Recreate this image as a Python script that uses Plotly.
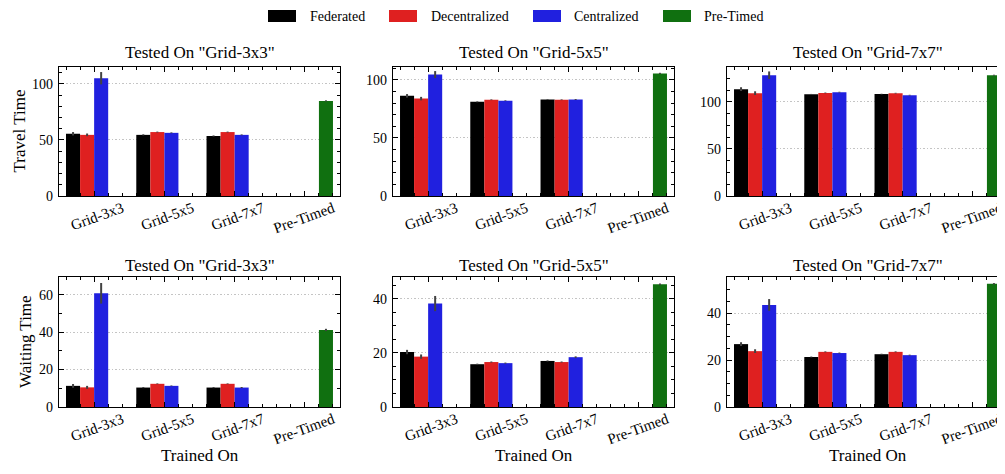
import plotly.graph_objects as go
from plotly.subplots import make_subplots

# ---------------- data ----------------
categories = ["Grid-3x3", "Grid-5x5", "Grid-7x7"]          # trained on
tick_labels = ["Grid-3x3", "Grid-5x5", "Grid-7x7", "Pre-Timed"]
tested_on = ["Grid-3x3", "Grid-5x5", "Grid-7x7"]
methods = ["Federated", "Decentralized", "Centralized", "Pre-Timed"]
colors = ["#000000", "#df2020", "#2020df", "#107010"]

# Travel time (rows: tested on 3x3, 5x5, 7x7)
travel_fed = [[55.5, 54.5, 53.5], [86.2, 81.0, 83.0], [113.5, 108.0, 108.2]]
travel_dec = [[54.5, 57.0, 57.0], [83.8, 82.8, 82.8], [109.2, 109.5, 109.2]]
travel_cen = [[105.0, 56.3, 54.5], [104.5, 82.0, 83.0], [128.3, 110.3, 107.1]]
travel_pre = [84.8, 105.5, 128.3]
travel_fed_err = [[1.5, 0.5, 0.5], [1.5, 0.4, 0.3], [2.0, 0.4, 0.4]]
travel_dec_err = [[1.2, 0.4, 0.4], [1.5, 0.3, 0.3], [2.0, 0.4, 0.4]]
travel_cen_err = [[5.5, 0.4, 0.4], [3.0, 0.3, 0.4], [4.0, 0.4, 0.4]]
travel_pre_err = [0.5, 0.5, 0.5]

# Waiting time
wait_fed = [[11.3, 10.4, 10.4], [20.3, 15.8, 17.0], [26.8, 21.3, 22.5]]
wait_dec = [[10.5, 12.4, 12.4], [18.6, 16.6, 16.6], [23.8, 23.5, 23.5]]
wait_cen = [[60.8, 11.3, 10.4], [38.2, 16.2, 18.4], [43.5, 23.0, 22.1]]
wait_pre = [41.2, 45.3, 52.5]
wait_fed_err = [[1.0, 0.3, 0.3], [0.8, 0.2, 0.2], [0.8, 0.2, 0.2]]
wait_dec_err = [[0.8, 0.2, 0.2], [0.8, 0.2, 0.2], [0.8, 0.2, 0.2]]
wait_cen_err = [[5.5, 0.2, 0.3], [2.8, 0.2, 0.3], [2.5, 0.2, 0.2]]
wait_pre_err = [0.6, 0.3, 0.3]

# axis settings
y_max = [[115, 111, 137], [69.5, 48, 55.4]]
y_major = [[50, 50, 50], [20, 20, 20]]
y_minor = [[10, 10, 12.5], [10, 5, 5]]
row_titles = ["Travel Time", "Waiting Time"]

FONT = "Liberation Serif"
OFF = 8                       # default page body margin
W, H = 1005 - OFF, 474 - 2 * OFF


def px(x):
    return (x - OFF) / W


def py(y):
    return 1 - (y - OFF) / H


fig = make_subplots(rows=2, cols=3)

metrics = [
    (travel_fed, travel_dec, travel_cen, travel_pre,
     travel_fed_err, travel_dec_err, travel_cen_err, travel_pre_err),
    (wait_fed, wait_dec, wait_cen, wait_pre,
     wait_fed_err, wait_dec_err, wait_cen_err, wait_pre_err),
]

xs = list(range(len(categories)))
x_pre = [len(categories)]

for r, m in enumerate(metrics):
    fed, dec, cen, pre, fe, de, ce, pe = m
    for c in range(3):
        series = [(fed[c], fe[c], xs), (dec[c], de[c], xs), (cen[c], ce[c], xs),
                  ([pre[c]], [pe[c]], x_pre)]
        for k, (vals, errs, xx) in enumerate(series):
            fig.add_trace(go.Bar(
                x=xx, y=vals, name=methods[k], marker_color=colors[k],
                marker_line_width=0, showlegend=False,
                error_y=dict(type="data", array=errs, color="#424242",
                             thickness=2, width=0)),
                row=r + 1, col=c + 1)

# ---------------- layout ----------------
col_px = [(59, 340), (393, 674), (727, 1008)]
row_px = [(67, 196), (277, 407)]
px_per_unit = (674 - 393) / 4.0

axis_common = dict(showline=True, linecolor="black", linewidth=1.3,
                   mirror="allticks", ticks="inside", tickcolor="black",
                   tickwidth=1, zeroline=False, automargin=False)

for r in range(2):
    for c in range(3):
        idx = r * 3 + c + 1
        xname = "xaxis" if idx == 1 else f"xaxis{idx}"
        yname = "yaxis" if idx == 1 else f"yaxis{idx}"
        x0, x1 = col_px[c]
        x1 = min(x1, W + OFF)
        y0, y1 = row_px[r]
        xr_end = -0.5 + (x1 - x0) / px_per_unit
        fig.layout[xname].update(
            domain=[px(x0), px(x1)], range=[-0.5, xr_end],
            tickvals=list(range(len(tick_labels))), ticktext=tick_labels,
            tickangle=-20, ticklen=5, ticklabelshift=28, ticklabelstandoff=-3,
            tickfont=dict(family=FONT, size=15, color="black"),
            showgrid=False,
            minor=dict(ticks="inside", ticklen=3, dtick=0.2, tick0=0,
                       tickcolor="black", tickwidth=1, showgrid=False),
            **axis_common)
        fig.layout[yname].update(
            domain=[py(y1), py(y0)], range=[0, y_max[r][c]],
            dtick=y_major[r][c], tick0=0, ticklen=5, ticklabelstandoff=2,
            tickfont=dict(family=FONT, size=14, color="black"),
            showgrid=True, gridcolor="#c4c4c4", gridwidth=1,
            griddash="1.5px,2px",
            minor=dict(ticks="inside", ticklen=3, dtick=y_minor[r][c], tick0=0,
                       tickcolor="black", tickwidth=1, showgrid=False),
            **axis_common)

annotations = []
title_y = [53, 265]
for r in range(2):
    for c in range(3):
        x0 = col_px[c][0]
        annotations.append(dict(
            text=f'Tested On "{tested_on[c]}"', x=px(x0 + 140.5), y=py(title_y[r]),
            xref="paper", yref="paper", xanchor="center", yanchor="middle",
            showarrow=False, font=dict(family=FONT, size=17, color="black")))

for c in range(3):
    x0 = col_px[c][0]
    annotations.append(dict(
        text="Trained On", x=px(x0 + 140.5), y=py(455),
        xref="paper", yref="paper", xanchor="center", yanchor="middle",
        showarrow=False, font=dict(family=FONT, size=17, color="black")))

ylab_x = [19, 25]
for r in range(2):
    y0, y1 = row_px[r]
    annotations.append(dict(
        text=row_titles[r], x=px(ylab_x[r]), y=py((y0 + y1) / 2),
        xref="paper", yref="paper", xanchor="center", yanchor="middle",
        textangle=-90, showarrow=False,
        font=dict(family=FONT, size=17, color="black")))

# legend (drawn manually to match wide swatches)
shapes = []
leg_swatch_x = [268, 389, 533, 663]
leg_text_x = [308, 429, 572, 702]
for k, name in enumerate(methods):
    shapes.append(dict(type="rect", xref="paper", yref="paper",
                       x0=px(leg_swatch_x[k]), x1=px(leg_swatch_x[k] + 28),
                       y0=py(22), y1=py(10),
                       fillcolor=colors[k], line=dict(width=0)))
    annotations.append(dict(
        text=name, x=px(leg_text_x[k]), y=py(16), xref="paper", yref="paper",
        xanchor="left", yanchor="middle", showarrow=False,
        font=dict(family=FONT, size=14, color="black")))

fig.update_layout(
    template="none",
    width=W, height=H, margin=dict(l=0, r=0, t=0, b=0, autoexpand=False),
    paper_bgcolor="white", plot_bgcolor="white",
    barmode="group", bargap=0.2, bargroupgap=0,
    font=dict(family=FONT, color="black"),
    annotations=annotations, shapes=shapes, showlegend=False)

fig.write_html("out.html", config={"displayModeBar": False})
